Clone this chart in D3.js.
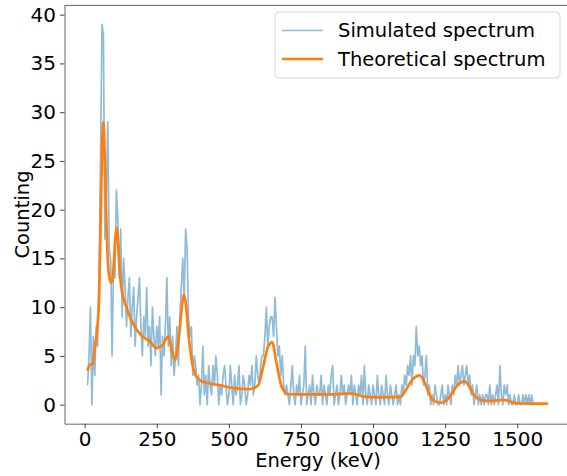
<!DOCTYPE html>
<html>
<head>
<meta charset="utf-8">
<script src="https://cdn.jsdelivr.net/npm/d3@7"></script>
<style>
  html, body { margin: 0; padding: 0; background: #fff; overflow: hidden; }
  svg { display: block; font-family: "DejaVu Sans", sans-serif; }
</style>
</head>
<body>
<svg id="chart" width="567" height="476"></svg>
<script>
// simulated spectrum: counts per 5 keV channel, first channel at 10 keV
var simStart = 10, simStep = 5;
var simCounts = [
  2,5,10,0,7,3,8,6,14,25,39,38,17,21,29,16,15,5,14,13,
  22,19,13,18,9,15,12,8,11,13,7,10,12,6,9,11,13,8,5,9,
  7,12,6,8,4,10,7,5,8,6,9,1,7,5,8,13,6,9,4,7,
  3,5,8,4,9,12,15,11,18,16,9,7,8,3,5,4,2,3,0,2,
  6,1,3,0,4,2,1,4,2,5,3,0,2,1,3,4,2,0,1,4,
  2,0,3,1,2,4,0,1,3,2,0,1,3,2,4,1,2,5,3,2,
  4,5,5,7,10,6,8,9,9,7,11,8,5,6,3,5,2,1,2,1,
  0,2,4,1,0,2,1,3,0,1,2,6,0,1,2,0,3,1,0,2,
  1,1,3,0,2,1,0,2,1,3,4,0,1,2,0,1,3,1,2,0,
  1,2,1,3,0,2,1,0,2,1,3,0,4,1,0,2,1,0,2,1,
  0,3,1,0,2,1,0,3,1,0,2,1,0,1,2,0,1,0,2,1,
  3,2,4,3,5,2,5,4,8,5,6,4,5,2,3,5,1,2,0,1,
  0,2,1,0,0,1,2,0,1,0,2,1,0,2,1,3,2,4,2,3,
  4,2,3,4,2,3,1,2,0,1,2,0,1,0,1,0,1,1,0,2,
  0,1,0,1,2,0,4,1,0,2,1,2,0,1,0,0,1,0,0,1,
  0,0,1,0,1,0,1,0,1,0,0
];

// theoretical spectrum
var theoEnergy = [10,18,28,36,44,50,55,60,65,70,75,80,86,93,100,106,111,116,122,130,
  145,160,180,200,226,240,249,265,273,283,290,297,305,313,322,332,340,345,352,360,
  371,385,400,430,469,515,573,602,619,636,650,665,683,706,760,861,920,977,1023,1093,
  1100,1116,1130,1145,1162,1180,1195,1205,1220,1237,1255,1270,1285,1300,1318,1335,1350,1370,1390,1416,
  1451,1480,1497,1550,1607];
var theoCounts = [3.5,4.1,4.2,6.0,8.0,11,18,26,29,25,19,15,13,12.5,14,17,18.1,16.5,13.5,11.5,
  10,8.8,7.7,7.0,6.5,6.0,5.8,6.0,6.2,6.8,7.0,6.3,5.2,4.6,5.8,8.5,10.8,11.3,10,7.2,
  4.6,3.0,2.5,2.2,2.0,1.7,1.6,2.0,3.9,5.95,6.4,4.3,1.85,1.07,1.05,1.05,1.15,0.8,0.75,0.8,
  0.9,1.6,2.3,2.8,3.0,2.2,1.1,0.6,0.3,0.2,0.45,1.0,1.7,2.2,2.4,1.8,1.0,0.5,0.4,0.4,
  0.5,0.3,0.15,0.1,0.1];

var xTicks = [0,250,500,750,1000,1250,1500];
var yTicks = [0,5,10,15,20,25,30,35,40];
var seriesNames = ["Simulated spectrum", "Theoretical spectrum"];
var colors = ["rgba(31,119,180,0.5)", "#ff7f0e"];

var svg = d3.select("#chart");
var fontSize = 19.5;

var x = d3.scaleLinear().domain([-70, 1690]).range([64.5, 572]);
var y = d3.scaleLinear().domain([-1.95, 40.95]).range([423.7, 5.4]);

var sim = simCounts.map((c, i) => [simStart + i * simStep, c]);
var theo = theoEnergy.map((e, i) => [e, theoCounts[i]]);

var line = d3.line().x(d => x(d[0])).y(d => y(d[1]));

svg.append("path")
    .datum(sim)
    .attr("fill", "none")
    .attr("stroke", colors[0])
    .attr("stroke-width", 1.7)
    .attr("stroke-linejoin", "round")
    .attr("d", line);

svg.append("path")
    .datum(theo)
    .attr("fill", "none")
    .attr("stroke", colors[1])
    .attr("stroke-width", 2.7)
    .attr("stroke-linejoin", "round")
    .attr("d", line.curve(d3.curveMonotoneX));

// axes
var xAxis = svg.append("g")
    .attr("transform", "translate(0,423.7)")
    .call(d3.axisBottom(x).tickValues(xTicks).tickFormat(d3.format("d"))
      .tickSize(4.5).tickPadding(4).tickSizeOuter(0));
var yAxis = svg.append("g")
    .attr("transform", "translate(64.5,0)")
    .call(d3.axisLeft(y).tickValues(yTicks).tickFormat(d3.format("d"))
      .tickSize(4.5).tickPadding(4).tickSizeOuter(0));

[xAxis, yAxis].forEach(g => {
  g.select(".domain").attr("stroke", "#666").attr("stroke-width", 1);
  g.selectAll(".tick line").attr("stroke", "#444");
  g.selectAll(".tick text")
      .attr("fill", "#000")
      .style("font-size", "20px")
      .style("font-family", "DejaVu Sans");
});

// top spine (right one is outside the picture)
svg.append("line")
    .attr("x1", 64.5).attr("x2", 572)
    .attr("y1", 5.4).attr("y2", 5.4)
    .attr("stroke", "#666");

svg.append("text")
    .attr("x", 318).attr("y", 467)
    .attr("text-anchor", "middle")
    .style("font-size", fontSize + "px")
    .text("Energy (keV)");

svg.append("text")
    .attr("transform", "translate(29,214.5) rotate(-90)")
    .attr("text-anchor", "middle")
    .style("font-size", fontSize + "px")
    .text("Counting");

// legend
var legend = svg.append("g");
legend.append("rect")
    .attr("x", 275).attr("y", 12)
    .attr("width", 285).attr("height", 66)
    .attr("rx", 4)
    .attr("fill", "#fff").attr("fill-opacity", 0.8)
    .attr("stroke", "#d6d6d6");

seriesNames.forEach((name, i) => {
  var ly = 30.5 + i * 28.5;
  legend.append("line")
      .attr("x1", 282).attr("x2", 323)
      .attr("y1", ly).attr("y2", ly)
      .attr("stroke", colors[i])
      .attr("stroke-width", i === 0 ? 1.7 : 2.7);
  legend.append("text")
      .attr("x", 338).attr("y", ly)
      .attr("dy", "0.35em")
      .style("font-size", fontSize + "px")
      .text(name);
});
</script>
</body>
</html>
